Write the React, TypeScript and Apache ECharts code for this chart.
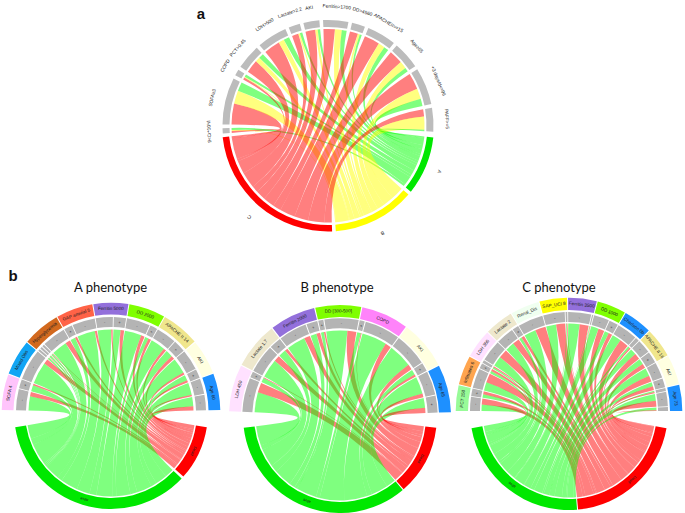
import React, { useEffect, useRef } from "react";
import * as echarts from "echarts";

// ---------- data: panel a ----------
const aFactors = ["9<Cr*10⁹/l", "SOFA≥3", "COPD", "PCT>0.45", "LDH>500", "Lactate>2.2", "AKI", "Ferritin>1700", "DD>4560", "APACHEII>=15", "Age≥65", "+3 days/d<=96", "PAFF>=5"];
const aRed = [1.2, 13, 1.5, 8, 10, 4, 6, 7, 5, 9.5, 8.5, 10, 4.5];
const aYellow = [0.5, 8, 0.5, 3, 3.5, 1, 1.5, 4.2, 1.2, 4, 4.5, 6.5, 8];
const aGreen = [1.3, 5.5, 1.5, 3, 3.5, 1.5, 1.5, 3, 1.3, 3, 2.5, 4.5, 0.9];
const aOutcomes = ["A", "B", "C"];

// ---------- data: panel b, A phenotype ----------
const pABands = ["SOFA 4", "Mixed Obs", "Hyperglycemia", "GAP arterial 5", "Ferritin 5000", "DD 2000", "APACHE II 14", "AKI", "Age 60"];
const pACells = [2, 1, 4, 2, 2, 2, 2, 2, 2];
const pAAlive = [10, 4.5, 15.5, 1, 1, 1, 11, 3.5, 12.5, 9.5, 5, 11.8, 2.5, 10.3, 5, 11, 4, 8.5, 6.5];
const pADead = [3, 1, 3.5, 0.3, 0.3, 0.3, 3.5, 1.5, 1.5, 1, 2.5, 2.5, 2, 2, 2.5, 1.5, 1.5, 1, 3];

// ---------- data: panel b, B phenotype ----------
const pBBands = ["LDH 450", "Lactate 1.7", "Ferritin 2000", "DD [300-500]", "COPD", "AKI", "Age 65"];
const pBCells = [2, 2, 2, 2, 2, 2, 2];
const pBAlive = [13.5, 3, 12.5, 5, 12.5, 4, 2, 14, 2.5, 16.8, 16, 3.5, 11.5, 6.5];
const pBDead = [6.5, 0.5, 4, 2, 4, 2.5, 1, 6, 0.5, 4, 3.5, 1.5, 2.5, 3.5];

// ---------- data: panel b, C phenotype ----------
const pCBands = ["PCT 150", "Infiltrates 6", "LDH 350", "Lactate 2", "Renal_Dis", "SAP_UCI 8", "Ferritin 3500", "DD 1000", "Charlson 0b", "APACHE II 16", "AKI", "Age 73"];
const pCCells = [2, 2, 2, 2, 1, 2, 2, 2, 2, 2, 2, 3];
const pCAlive = [4.2, 2.4, 5.5, 1.5, 0.9, 6.5, 6, 1.7, 7.8, 6.6, 0.5, 7.5, 0.4, 5, 2.8, 6, 1.2, 4, 3.7, 5.3, 2.8, 0.9, 4.4, 1.8];
const pCDead = [4, 2, 6, 1.5, 0.8, 6, 4.5, 2, 7, 6, 0.5, 6, 0.3, 4, 2.5, 6, 1, 4, 3, 4, 2.5, 0.8, 4, 0.5];

const outcomeNames = ["alive", "Dead"];
const titles = ["A phenotype", "B phenotype", "C phenotype"];

// ---------- styles ----------
const GREY = "#bcbcbc";
const SANS = "'Liberation Sans', Arial, sans-serif";
const pABandColors = ["#ffc4fb", "#12a5f4", "#d2691e", "#ff6347", "#9370db", "#7fff00", "#f0e68c", "#ffffe0", "#1e90ff"];
const pBBandColors = ["#ffe1ff", "#eee8cd", "#9370db", "#7fff00", "#ff83fa", "#ffffe0", "#1e90ff"];
const pCBandColors = ["#98fb98", "#ffa54f", "#ffe1ff", "#eee8cd", "#f0fff0", "#ffff00", "#9370db", "#7fff00", "#1e90ff", "#f0e68c", "#ffffe0", "#1e90ff"];
const RIBBON = { red: "rgba(255,0,0,0.5)", yellow: "rgba(255,255,0,0.5)", green: "rgba(0,255,0,0.5)" };

type Mark =
  | { t: "path"; d: string; fill: string }
  | { t: "text"; x: number; y: number; rot: number; text: string; size: number; color: string; family: string; weight?: string };

const marks: Mark[] = [];

function pt(cx: number, cy: number, r: number, deg: number): [number, number] {
  const a = (deg * Math.PI) / 180;
  return [cx + r * Math.sin(a), cy - r * Math.cos(a)];
}
const f = (n: number) => n.toFixed(2);

function annulus(cx: number, cy: number, r0: number, r1: number, a0: number, a1: number): string {
  const large = a1 - a0 > 180 ? 1 : 0;
  const [x0, y0] = pt(cx, cy, r1, a0);
  const [x1, y1] = pt(cx, cy, r1, a1);
  const [x2, y2] = pt(cx, cy, r0, a1);
  const [x3, y3] = pt(cx, cy, r0, a0);
  return `M${f(x0)} ${f(y0)}A${r1} ${r1} 0 ${large} 1 ${f(x1)} ${f(y1)}L${f(x2)} ${f(y2)}A${r0} ${r0} 0 ${large} 0 ${f(x3)} ${f(y3)}Z`;
}

function ribbon(cx: number, cy: number, rTop: number, rBot: number, a0: number, a1: number, b0: number, b1: number): string {
  const [x0, y0] = pt(cx, cy, rTop, a0);
  const [x1, y1] = pt(cx, cy, rTop, a1);
  const [x2, y2] = pt(cx, cy, rBot, b0);
  const [x3, y3] = pt(cx, cy, rBot, b1);
  const c = `${f(cx)} ${f(cy)}`;
  return `M${f(x0)} ${f(y0)}A${rTop} ${rTop} 0 0 1 ${f(x1)} ${f(y1)}Q${c} ${f(x2)} ${f(y2)}A${rBot} ${rBot} 0 ${b1 - b0 > 180 ? 1 : 0} 1 ${f(x3)} ${f(y3)}Q${c} ${f(x0)} ${f(y0)}Z`;
}

const sum = (v: number[]) => v.reduce((s, n) => s + n, 0);

function label(x: number, y: number, deg: number, text: string, size: number, color = "#222", family = SANS, weight?: string) {
  marks.push({ t: "text", x, y, rot: (-deg * Math.PI) / 180, text, size, color, family, weight });
}

// ---------- layout of panel a ----------
function buildOverview() {
  const cx = 328, cy = 125.5, gap = 2;
  const top: [number, number] = [265.6, 453.4];
  const bottom: [number, number] = [96.5, 263.6];
  const rows = aFactors.map((_, i) => [aRed[i], aYellow[i], aGreen[i]]);
  const totals = rows.map(sum);
  const k = (top[1] - top[0] - gap * (rows.length - 1)) / sum(totals);
  const outTotals = [sum(aGreen), sum(aYellow), sum(aRed)];
  const kb = (bottom[1] - bottom[0] - gap * 2) / sum(outTotals);
  const outColors = ["#00e800", "#ffff00", "#ff0000"];
  const ribColors = [RIBBON.red, RIBBON.yellow, RIBBON.green];
  const outIndex = [2, 1, 0];

  let oa = bottom[0];
  const cursors: Record<number, number> = {};
  outTotals.forEach((v, o) => {
    const e = oa + v * kb;
    marks.push({ t: "path", d: annulus(cx, cy, 99.5, 106, oa, e), fill: outColors[o] });
    const m = (oa + e) / 2;
    const [lx, ly] = pt(cx, cy, 121, m);
    label(lx, ly, m, aOutcomes[o], 5);
    cursors[o] = oa;
    oa = e + gap;
  });

  // the last factor clockwise takes the first place of each outcome
  const ends: number[][][] = rows.map(() => [[], [], []]);
  for (let i = rows.length - 1; i >= 0; i--) {
    rows[i].forEach((v, c) => {
      const o = outIndex[c];
      ends[i][c] = [cursors[o], cursors[o] + v * kb];
      cursors[o] += v * kb;
    });
  }

  let a = top[0];
  rows.forEach((row, i) => {
    const e = a + totals[i] * k;
    marks.push({ t: "path", d: annulus(cx, cy, 98.5, 105.5, a, e), fill: GREY });
    const m = (a + e) / 2;
    const [lx, ly] = pt(cx, cy, 119, m);
    label(lx, ly, m, aFactors[i], 4.8);
    let s = a;
    row.forEach((v, c) => {
      const w = v * k;
      marks.push({ t: "path", d: ribbon(cx, cy, 96.5, 97, s, s + w, ends[i][c][0], ends[i][c][1]), fill: ribColors[c] });
      s += w;
    });
    a = e + gap;
  });
}

// ---------- layout of panels in b ----------
interface Geometry {
  cx: number; cy: number;
  band: [number, number]; grey: [number, number]; rTop: number;
  out: [number, number]; rBot: number;
  top: [number, number]; bottom: [number, number];
  cellGap: number; outGap: number;
}

function buildPhenotype(g: Geometry, bands: string[], counts: number[], colors: string[], alive: number[], dead: number[], title: string, titleX: number) {
  const { cx, cy } = g;
  const n = alive.length;
  const cellTotals = alive.map((v, i) => v + dead[i]);
  const k = (g.top[1] - g.top[0] - g.cellGap * (n - 1)) / sum(cellTotals);
  const outTotals = [sum(dead), sum(alive)];
  const kb = (g.bottom[1] - g.bottom[0] - g.outGap) / sum(outTotals);
  const outColors = ["#ff0000", "#00e800"];
  const outLabels = [outcomeNames[1], outcomeNames[0]];

  let oa = g.bottom[0];
  const cursor = [0, 0];
  outTotals.forEach((v, o) => {
    const e = oa + v * kb;
    marks.push({ t: "path", d: annulus(cx, cy, g.out[0], g.out[1], oa, e), fill: outColors[o] });
    const m = (oa + e) / 2;
    const [lx, ly] = pt(cx, cy, (g.out[0] + g.out[1]) / 2, m);
    label(lx, ly, m, outLabels[o], 4);
    cursor[o] = oa;
    oa = e + g.outGap;
  });

  const deadEnds: number[][] = [];
  const aliveEnds: number[][] = [];
  for (let i = n - 1; i >= 0; i--) {
    deadEnds[i] = [cursor[0], cursor[0] + dead[i] * kb];
    cursor[0] += dead[i] * kb;
    aliveEnds[i] = [cursor[1], cursor[1] + alive[i] * kb];
    cursor[1] += alive[i] * kb;
  }

  const starts: number[] = [];
  let a = g.top[0];
  cellTotals.forEach((t) => { starts.push(a); a += t * k + g.cellGap; });

  let cell = 0;
  bands.forEach((name, b) => {
    const first = cell;
    const last = cell + counts[b] - 1;
    const bs = starts[first];
    const be = starts[last] + cellTotals[last] * k;
    marks.push({ t: "path", d: annulus(cx, cy, g.band[0], g.band[1], bs, be), fill: colors[b] });
    const m = (bs + be) / 2;
    const [lx, ly] = pt(cx, cy, (g.band[0] + g.band[1]) / 2, m);
    label(lx, ly, m, name, 4.6);
    const group = cellTotals.slice(first, last + 1);
    const largest = Math.max(...group);
    for (let c = first; c <= last; c++) {
      const s = starts[c];
      const w = cellTotals[c] * k;
      marks.push({ t: "path", d: annulus(cx, cy, g.grey[0], g.grey[1], s, s + w), fill: "#b4b4b4" });
      if (w > 2.5) {
        const [tx, ty] = pt(cx, cy, (g.grey[0] + g.grey[1]) / 2, s + w / 2);
        label(tx, ty, s + w / 2, cellTotals[c] === largest ? "-" : "+", 4, "#333");
      }
      const wa = alive[c] * k;
      marks.push({ t: "path", d: ribbon(cx, cy, g.rTop, g.rBot, s, s + wa, aliveEnds[c][0], aliveEnds[c][1]), fill: RIBBON.green });
      marks.push({ t: "path", d: ribbon(cx, cy, g.rTop, g.rBot, s + wa, s + w, deadEnds[c][0], deadEnds[c][1]), fill: RIBBON.red });
    }
    cell = last + 1;
  });
  label(titleX, 286.5, 0, title, 13, "#111", "Lato, sans-serif");
}

buildOverview();
buildPhenotype(
  { cx: 111, cy: 412, band: [97.5, 109.3], grey: [85, 95], rTop: 82.5, out: [86, 97], rBot: 84.5, top: [271, 449], bottom: [99, 261], cellGap: 0.55, outGap: 1.5 },
  pABands, pACells, pABandColors, pAAlive, pADead, titles[0], 110.5
);
buildPhenotype(
  { cx: 340, cy: 416, band: [99, 111], grey: [87.7, 97.7], rTop: 85.5, out: [86, 97], rBot: 84.5, top: [272.5, 448], bottom: [97, 263], cellGap: 0.6, outGap: 0.7 },
  pBBands, pBCells, pBBandColors, pBAlive, pBDead, titles[1], 337
);
buildPhenotype(
  { cx: 569, cy: 411, band: [101, 113.3], grey: [89, 99], rTop: 87.5, out: [88, 99], rBot: 86.5, top: [270, 450], bottom: [100, 260], cellGap: 0.5, outGap: 0.6 },
  pCBands, pCCells, pCBandColors, pCAlive, pCDead, titles[2], 559
);
label(201, 13, 0, "a", 15, "#111", SANS, "bold");
label(13, 275, 0, "b", 15, "#111", SANS, "bold");

export default function App() {
  const ref = useRef<HTMLDivElement>(null);
  useEffect(() => {
    const chart = echarts.init(ref.current!, undefined, { renderer: "svg" });
    chart.setOption({
      animation: false,
      backgroundColor: "#fff",
      series: [
        {
          type: "custom",
          coordinateSystem: "none",
          silent: true,
          clip: false,
          data: marks.map((_, i) => [i]),
          renderItem: (_p: unknown, api: { value: (d: number) => number }) => {
            const m = marks[api.value(0)];
            if (m.t === "path") {
              return { type: "path", shape: { pathData: m.d }, style: { fill: m.fill, stroke: "none" } };
            }
            return {
              type: "text",
              x: m.x,
              y: m.y,
              rotation: m.rot,
              style: {
                text: m.text,
                x: 0,
                y: 0,
                fill: m.color,
                fontSize: m.size,
                fontFamily: m.family,
                fontWeight: m.weight || "normal",
                align: "center",
                verticalAlign: "middle",
              },
            };
          },
        },
      ],
    });
    return () => chart.dispose();
  }, []);
  return <div ref={ref} style={{ position: "absolute", left: 0, top: 0, width: 685, height: 513 }} />;
}
